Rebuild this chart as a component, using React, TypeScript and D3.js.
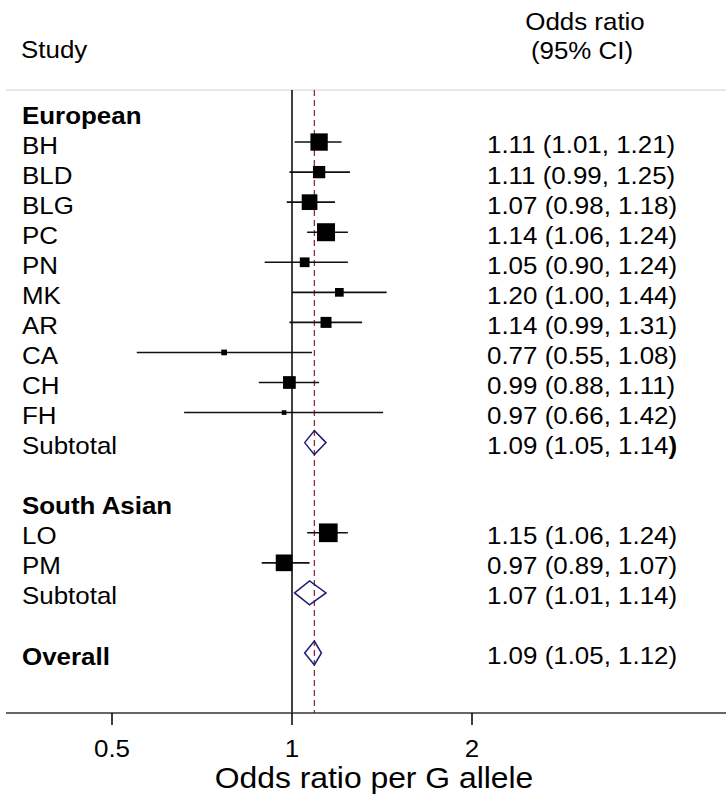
import React, { useEffect, useRef } from 'react';
import * as d3 from 'd3';

// Forest plot rows, top to bottom (blank labels are spacer rows)
const rowLabels = [
  'European', 'BH', 'BLD', 'BLG', 'PC', 'PN', 'MK', 'AR', 'CA', 'CH', 'FH', 'Subtotal',
  '', 'South Asian', 'LO', 'PM', 'Subtotal', '', 'Overall',
];
const rowKinds = [
  'head', 'study', 'study', 'study', 'study', 'study', 'study', 'study', 'study', 'study', 'study', 'sub',
  'gap', 'head', 'study', 'study', 'sub', 'gap', 'overall',
];
const estimates = [null, 1.11, 1.11, 1.07, 1.14, 1.05, 1.2, 1.14, 0.77, 0.99, 0.97, 1.09, null, null, 1.15, 0.97, 1.07, null, 1.09];
const lowers = [null, 1.01, 0.99, 0.98, 1.06, 0.9, 1.0, 0.99, 0.55, 0.88, 0.66, 1.05, null, null, 1.06, 0.89, 1.01, null, 1.05];
const uppers = [null, 1.21, 1.25, 1.18, 1.24, 1.24, 1.44, 1.31, 1.08, 1.11, 1.42, 1.14, null, null, 1.24, 1.07, 1.14, null, 1.12];
// study weights (%), drive the box areas
const weights = [null, 13.9, 7.0, 11.4, 15.0, 4.4, 3.5, 5.6, 1.5, 7.5, 1.0, null, null, null, 16.2, 12.9, null, null, null];
const overallEstimate = 1.09;
const xTicks = [0.5, 1, 2];

const FONT = '"Liberation Sans", Arial, Helvetica, sans-serif';
const STRETCH = 'scale(1.08,1)';

export default function App() {
  const ref = useRef<SVGSVGElement | null>(null);

  useEffect(() => {
    if (!ref.current) return;
    const width = 726;
    const height = 795;
    const svg = d3.select(ref.current);
    svg.selectAll('*').remove();
    svg.attr('width', width).attr('height', height).attr('viewBox', `0 0 ${width} ${height}`);

    const x = d3.scaleLog().base(2).domain([0.5, 2]).range([112, 472]);
    const y = d3.scaleLinear().domain([0, rowLabels.length - 1]).range([112, 653]);
    const size = d3.scaleSqrt().domain([0, d3.max(weights.filter(w => w != null) as number[])!]).range([0, 18.7]);

    const topY = 90;
    const axisY = 713;

    const addText = (tx: number, ty: number, str: string, fs: number, anchor = 'start', weight = 'normal') =>
      svg.append('text')
        .attr('transform', `translate(${tx},${ty}) ${STRETCH}`)
        .attr('font-family', FONT)
        .attr('font-size', fs)
        .attr('font-weight', weight)
        .attr('text-anchor', anchor)
        .attr('fill', '#000')
        .text(str);

    // headers
    addText(21, 58, 'Study', 24);
    addText(585, 30, 'Odds ratio', 24, 'middle');
    addText(582, 59, '(95% CI)', 24, 'middle');

    // top rule
    svg.append('line')
      .attr('x1', 6).attr('x2', width).attr('y1', topY).attr('y2', topY)
      .attr('stroke', '#d2d2d2').attr('stroke-width', 1.2);

    // null line and overall line
    svg.append('line')
      .attr('x1', x(1)).attr('x2', x(1)).attr('y1', topY).attr('y2', axisY)
      .attr('stroke', '#000').attr('stroke-width', 1.5);
    svg.append('line')
      .attr('x1', x(overallEstimate)).attr('x2', x(overallEstimate)).attr('y1', topY).attr('y2', axisY)
      .attr('stroke', '#8c2d3c').attr('stroke-width', 1.3).attr('stroke-dasharray', '6,4');

    // rows
    rowLabels.forEach((label, i) => {
      const kind = rowKinds[i];
      const cy = y(i);
      if (label) addText(22, cy + 11.5, label, 24, 'start', kind === 'head' || kind === 'overall' ? 'bold' : 'normal');
      const est = estimates[i];
      const lo = lowers[i];
      const hi = uppers[i];
      if (est == null || lo == null || hi == null) return;

      if (kind === 'study') {
        svg.append('line')
          .attr('x1', x(lo)).attr('x2', x(hi)).attr('y1', cy).attr('y2', cy)
          .attr('stroke', '#111').attr('stroke-width', 1.6);
        const s = size(weights[i] as number);
        svg.append('rect')
          .attr('x', x(est) - s / 2).attr('y', cy - s / 2)
          .attr('width', s).attr('height', s)
          .attr('fill', '#000');
      } else {
        const hh = 12;
        svg.append('path')
          .attr('d', `M${x(lo)},${cy} L${x(est)},${cy - hh} L${x(hi)},${cy} L${x(est)},${cy + hh} Z`)
          .attr('fill', 'none')
          .attr('stroke', '#1c1c78')
          .attr('stroke-width', 1.5);
      }

      const valueStr = `${est.toFixed(2)} (${lo.toFixed(2)}, ${hi.toFixed(2)}`;
      const t = addText(487, cy + 11.4, '', 24);
      t.append('tspan').text(valueStr);
      // the European subtotal has its closing bracket set in bold
      t.append('tspan').attr('font-weight', i === 11 ? 'bold' : 'normal').text(')');
    });

    // x axis
    svg.append('line')
      .attr('x1', 6).attr('x2', width).attr('y1', axisY).attr('y2', axisY)
      .attr('stroke', '#333').attr('stroke-width', 1.5);
    xTicks.forEach(v => {
      svg.append('line')
        .attr('x1', x(v)).attr('x2', x(v)).attr('y1', axisY).attr('y2', axisY + 12)
        .attr('stroke', '#000').attr('stroke-width', 1.5);
      addText(x(v), 757, String(v), 24, 'middle');
    });
    addText(374, 788, 'Odds ratio per G allele', 29.5, 'middle');
  }, []);

  return (
    <div style={{ position: 'absolute', left: 0, top: 0, background: '#fff' }}>
      <svg ref={ref}></svg>
    </div>
  );
}
